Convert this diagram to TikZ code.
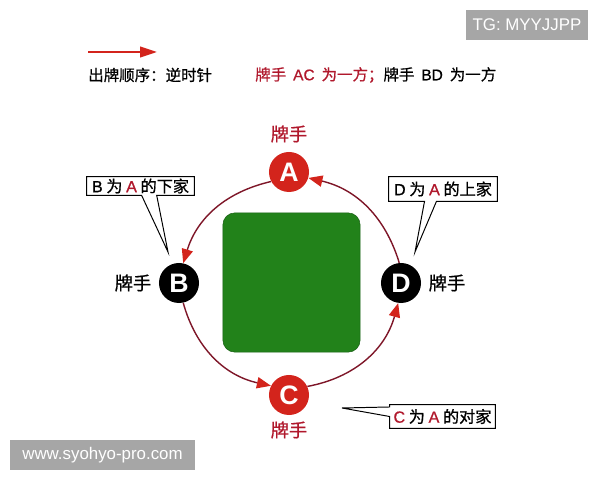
\documentclass[tikz,border=0pt]{standalone}
\usepackage{fontspec}
\setmainfont[FakeBold=0.8]{Noto Sans CJK SC}
\newfontfamily\latin{Liberation Sans}
\newfontfamily\latinmid[FakeBold=0.8]{Liberation Sans}
\usetikzlibrary{positioning, arrows.meta, calc}
\definecolor{cardred}{HTML}{D3241C}
\definecolor{arcred}{HTML}{7E1628}
\definecolor{textred}{HTML}{B0182C}
\definecolor{tablegreen}{HTML}{22821A}
\definecolor{markgray}{HTML}{A6A6A6}
\newcommand{\gap}{\hspace{0.45em}}

\begin{document}
\begin{tikzpicture}[x=0.025cm, y=0.025cm,
    player/.style={circle, minimum size=1cm, inner sep=0pt, text=white, font=\latin\bfseries\fontsize{19}{19}\selectfont},
    playerlabel/.style={font=\fontsize{13}{13}\selectfont},
    turn/.style={draw=arcred, line width=1pt, -{Triangle[length=10pt, width=8pt, color=cardred]}},
    callout/.style={font=\fontsize{11.5}{11.5}\selectfont, inner sep=0pt},
    calloutline/.style={draw=black, line width=0.7pt},
    watermark/.style={fill=markgray, text=white, inner sep=0pt, font=\latin\fontsize{12}{12}\selectfont}]
			\useasboundingbox (0,0) rectangle (600,480);
			% Watermarks
			\node[watermark, minimum width=3.05cm, minimum height=0.75cm] (tg) at (527,455) {TG: MYYJJPP};
			\node[watermark, minimum width=4.63cm, minimum height=0.75cm] (www) at (102.5,25) {www.syohyo-pro.com};
			% Legend
			\coordinate (legS) at (88,428);
			\coordinate (legE) at (157,428);
			\draw[cardred, line width=1.6pt, -{Triangle[length=12pt, width=7.5pt]}] (legS) -- (legE);
			\node[anchor=west, inner sep=0pt, font=\fontsize{11}{11}\selectfont] (order) at (88,405) {出牌顺序：逆时针};
			\node[anchor=west, inner sep=0pt, font=\fontsize{11}{11}\selectfont] (sides) at (255,405) {{\color{textred}牌手\gap{\latinmid AC}\gap 为一方；}牌手\gap{\latinmid BD}\gap 为一方};
			% Table
			\node[fill=tablegreen, draw=tablegreen!75!black, rounded corners=0.3cm, minimum width=3.43cm, minimum height=3.48cm] (table) at (291.5,197.5) {};
			% Players
			\node[player, fill=cardred] (nA) at (289,308) {A};
			\node[player, fill=black] (nB) at (179,197) {B};
			\node[player, fill=cardred] (nC) at (289,85) {C};
			\node[player, fill=black] (nD) at (401,197) {D};
			\node[playerlabel, text=textred] (labA) at (289,346) {牌手};
			\node[playerlabel] (labB) at (133,197) {牌手};
			\node[playerlabel, text=textred] (labC) at (289,50) {牌手};
			\node[playerlabel] (labD) at (447,197) {牌手};
			% Turns
			\draw[turn] (nA.208) to[bend right=30] (nB.78);
			\draw[turn] (nB.282) to[bend right=31] (nC.153);
			\draw[turn] (nC.25) to[bend right=32] (nD.262);
			\draw[turn] (nD.95) to[bend right=30] (nA.343);
			% Callouts
			\node[callout, minimum width=2.68cm, minimum height=0.45cm] (noteB) at (140.5,294) {{\latinmid B} 为 {\latinmid\color{textred}A} 的下家};
			\coordinate (tipB) at (168,228);
			\draw[calloutline] (noteB.north west) -- (noteB.north east) -- (noteB.south east) -- ($(noteB.south west)!0.65!(noteB.south east)$) -- (tipB) -- ($(noteB.south west)!0.51!(noteB.south east)$) -- (noteB.south west) -- cycle;
			\node[callout, minimum width=2.7cm, minimum height=0.6cm] (noteD) at (443,291) {{\latinmid D} 为 {\latinmid\color{textred}A} 的上家};
			\coordinate (tipD) at (415,228);
			\draw[calloutline] (noteD.north west) -- (noteD.north east) -- (noteD.south east) -- ($(noteD.south west)!0.44!(noteD.south east)$) -- (tipD) -- ($(noteD.south west)!0.33!(noteD.south east)$) -- (noteD.south west) -- cycle;
			\node[callout, minimum width=2.63cm, minimum height=0.58cm] (noteC) at (442.5,63.5) {{\latinmid\color{textred}C} 为 {\latinmid\color{textred}A} 的对家};
			\coordinate (tipC) at (342,72);
			\draw[calloutline] (noteC.north west) -- (noteC.north east) -- (noteC.south east) -- (noteC.south west) -- ($(noteC.north west)!0.5!(noteC.south west)$) -- (tipC) -- ($(noteC.north west)!0.1!(noteC.south west)$) -- cycle;
\end{tikzpicture}
\end{document}
